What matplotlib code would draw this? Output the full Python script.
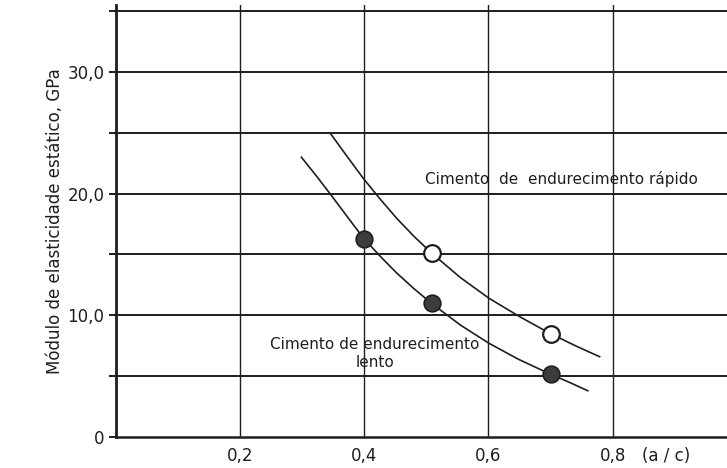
import matplotlib.pyplot as plt

# data (x = a/c ratio, y = GPa)
rapid_x = [0.51, 0.70]
rapid_y = [15.1, 8.5]
slow_x = [0.40, 0.51, 0.70]
slow_y = [16.3, 11.0, 5.2]

# hand-drawn curves, points
rapid_curve_x = [0.345, 0.372, 0.398, 0.425, 0.452, 0.480, 0.509, 0.555, 0.601, 0.650, 0.696, 0.740, 0.779]
rapid_curve_y = [25.0, 23.1, 21.3, 19.6, 18.0, 16.5, 15.1, 13.1, 11.4, 9.9, 8.6, 7.5, 6.6]
slow_curve_x = [0.299, 0.324, 0.348, 0.373, 0.398, 0.425, 0.452, 0.480, 0.508, 0.555, 0.601, 0.648, 0.694, 0.730, 0.760]
slow_curve_y = [23.0, 21.4, 19.8, 18.1, 16.4, 14.9, 13.5, 12.2, 11.0, 9.2, 7.7, 6.4, 5.3, 4.5, 3.8]

y_major = [0, 10, 20, 30]
y_labels = ["0", "10,0", "20,0", "30,0"]
y_minor = [5, 15, 25, 35]
x_ticks = [0.2, 0.4, 0.6, 0.8]
x_labels = ["0,2", "0,4", "0,6", "0,8"]

ink = "#1e1e1e"

fig = plt.figure(figsize=(7.27, 4.68), dpi=100)
ax = fig.add_axes([0.159, 0.0662, 0.841, 0.923])
ax.set_xlim(0, 0.984)
ax.set_ylim(0, 35.5)

# grid
for y in y_major[1:] + y_minor:
    ax.axhline(y, color=ink, lw=1.4, zorder=1)
for x in x_ticks:
    ax.axvline(x, color=ink, lw=1.0, zorder=1)

ax.spines["top"].set_visible(False)
ax.spines["right"].set_visible(False)
ax.spines["left"].set_linewidth(2.0)
ax.spines["bottom"].set_linewidth(1.8)
ax.spines["left"].set_color(ink)
ax.spines["bottom"].set_color(ink)

ax.set_yticks(y_major)
ax.set_yticklabels(y_labels, fontsize=12, color=ink)
ax.set_yticks(y_minor, minor=True)
ax.tick_params(axis="y", which="both", direction="out", length=5, width=1.4, color=ink, pad=3)
ax.set_xticks(x_ticks)
ax.set_xticklabels(x_labels, fontsize=12, color=ink)
ax.tick_params(axis="x", length=0, pad=7)

ax.text(0.848, -0.023, "(a / c)", transform=ax.get_xaxis_transform(), fontsize=12,
        color=ink, ha="left", va="top")

ax.set_ylabel("Módulo de elasticidade estático, GPa", fontsize=12, color=ink)
ax.yaxis.set_label_coords(-0.085, 0.5)

# curves
ax.plot(rapid_curve_x, rapid_curve_y, color=ink, lw=1.2, zorder=3)
ax.plot(slow_curve_x, slow_curve_y, color=ink, lw=1.2, zorder=3)

ax.plot(slow_x, slow_y, "o", ms=12, mfc="#3c3c3c", mec=ink, mew=1.2, zorder=4, clip_on=False)
ax.plot(rapid_x, rapid_y, "o", ms=12, mfc="white", mec=ink, mew=1.6, zorder=4, clip_on=False)

ax.text(0.498, 21.2, "Cimento  de  endurecimento rápido", fontsize=11, color=ink,
        ha="left", va="center", zorder=5)
ax.text(0.417, 6.85, "Cimento de endurecimento\nlento", fontsize=11, color=ink,
        ha="center", va="center", multialignment="center", linespacing=1.25, zorder=5)

fig.savefig("out.png", dpi=100)
